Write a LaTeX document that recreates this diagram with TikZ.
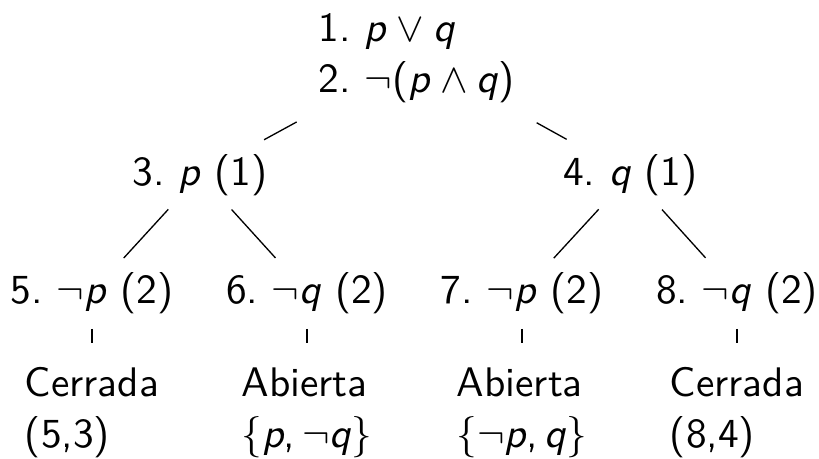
\documentclass[tikz,border=0pt]{standalone}
\usepackage{fontspec}
\begin{document}
\frenchspacing
\begin{tikzpicture}[x=0.2651pt,y=-0.2651pt,
  every node/.style={font=\sffamily\fontsize{10.95}{13.6}\selectfont\frenchspacing, inner sep=0pt},
  lbl/.style={anchor=base},
  toplink/.style={line width=0.35pt, shorten <=36.3pt, shorten >=19.35pt},
  sublink/.style={line width=0.35pt, shorten <=12.46pt, shorten >=12.46pt},
  ticklink/.style={line width=0.35pt, shorten <=9.62pt, shorten >=4.32pt}]
\useasboundingbox (0,0) rectangle (819,458);
\node[anchor=base west] (top) at (318,41) {\begin{tabular}[t]{@{}l@{}}1. \textit{p}${}\vee{}$\textit{q}\\2. $\neg$(\textit{p}${}\wedge{}$\textit{q})\end{tabular}};
\node[lbl] (n3) at (200,185) {3. \textit{p} (1)};
\node[lbl] (n4) at (630.5,185) {4. \textit{q} (1)};
\node[lbl] (n5) at (92,303) {5. $\neg$\textit{p} (2)};
\node[lbl] (n6) at (307,303) {6. $\neg$\textit{q} (2)};
\node[lbl] (n7) at (522,303) {7. $\neg$\textit{p} (2)};
\node[lbl] (n8) at (737,303) {8. $\neg$\textit{q} (2)};
\node[lbl] (b5) at (92,396) {\begin{tabular}[t]{@{}l@{}}Cerrada\\(5,3)\end{tabular}};
\node[lbl] (b6) at (307,396) {\begin{tabular}[t]{@{}l@{}}Abierta\\$\{$\textit{p},\,$\neg$\textit{q}$\}$\end{tabular}};
\node[lbl] (b7) at (522,396) {\begin{tabular}[t]{@{}l@{}}Abierta\\$\{\neg$\textit{p},\,\textit{q}$\}$\end{tabular}};
\node[lbl] (b8) at (737,396) {\begin{tabular}[t]{@{}l@{}}Cerrada\\(8,4)\end{tabular}};
\draw[toplink] (top.center) -- (n3.center);
\draw[toplink] (top.center) -- (n4.center);
\draw[sublink] (n3.center) -- (n5.center);
\draw[sublink] (n3.center) -- (n6.center);
\draw[sublink] (n4.center) -- (n7.center);
\draw[sublink] (n4.center) -- (n8.center);
\draw[ticklink] (n5.center) -- (n5.center |- b5.north);
\draw[ticklink] (n6.center) -- (n6.center |- b6.north);
\draw[ticklink] (n7.center) -- (n7.center |- b7.north);
\draw[ticklink] (n8.center) -- (n8.center |- b8.north);
\end{tikzpicture}
\end{document}
